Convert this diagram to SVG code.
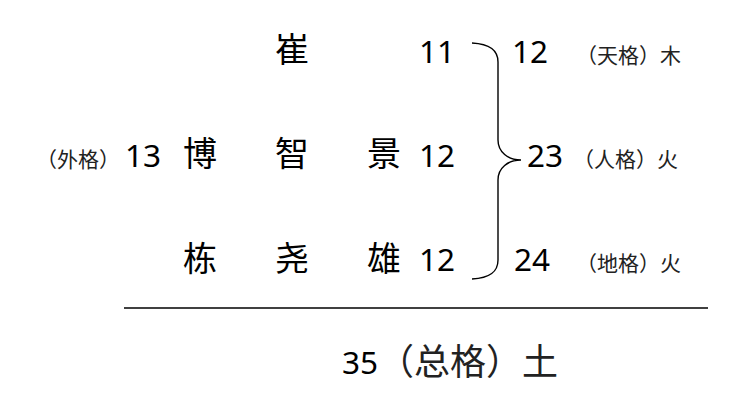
<svg xmlns="http://www.w3.org/2000/svg" width="749" height="412" viewBox="0 0 749 412">
<style>
.cj{font-family:"Noto Sans CJK SC","Noto Sans",sans-serif;font-size:34px;fill:#000}
.num{font-family:"Noto Sans","Open Sans",sans-serif;font-size:31.5px;fill:#000}
.lb{font-family:"Noto Sans CJK SC",sans-serif;font-size:21px;fill:#222}
.tot{font-family:"Noto Sans CJK SC",sans-serif;font-size:36px;fill:#222}
</style>
<rect width="749" height="412" fill="#fff"/>
<g id="row1">
<text class="cj" x="275" y="62">崔</text>
<text class="num" x="419" y="63">11</text>
<text class="num" x="512" y="63">12</text>
<text class="lb" x="576" y="63">（天格）木</text>
</g>
<g id="row2">
<text class="lb" x="36" y="167">（外格）</text>
<text class="num" x="125" y="167">13</text>
<text class="cj" x="183" y="166">博</text>
<text class="cj" x="275" y="166">智</text>
<text class="cj" x="367" y="166">景</text>
<text class="num" x="419" y="167">12</text>
<text class="num" x="527" y="167">23</text>
<text class="lb" x="573" y="167">（人格）火</text>
</g>
<g id="row3">
<text class="cj" x="183" y="271">栋</text>
<text class="cj" x="275" y="271">尧</text>
<text class="cj" x="367" y="271">雄</text>
<text class="num" x="419" y="271">12</text>
<text class="num" x="514" y="271">24</text>
<text class="lb" x="576" y="271">（地格）火</text>
</g>
<g id="connectors" fill="none" stroke="#000" stroke-width="1.4">
<path d="M472,43 C490,44 498,50 498,62 L498,140 C498,152 508,160 521,160 C508,160 498,168 498,180 L498,260 C498,272 490,278 472,279"/>
<line x1="124" y1="308" x2="708" y2="308" stroke-width="1.3"/>
</g>
<g id="total">
<text class="num" x="342" y="374">35</text>
<text class="tot" x="378" y="375">（总格）土</text>
</g>
</svg>
